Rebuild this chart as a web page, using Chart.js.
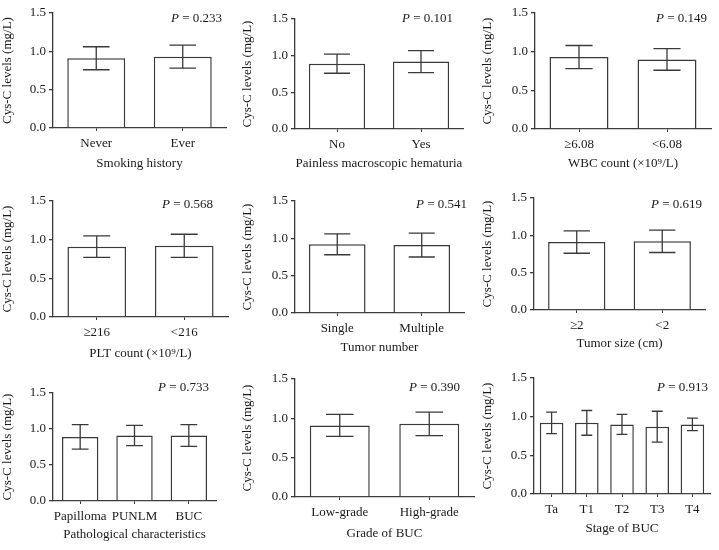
<!DOCTYPE html>
<html>
<head>
<meta charset="utf-8">
<script src="https://cdn.jsdelivr.net/npm/chart.js@4.4.1/dist/chart.umd.min.js"></script>
<style>
  body { margin: 0; background: #fff; }
  #wrap { position: relative; width: 719px; height: 550px; background: #fff; overflow: hidden; }
  #wrap canvas { position: absolute; }
</style>
</head>
<body>
<div id="wrap"></div>
<script>
// ---- data (mean and SD of Cys-C, mg/L) ----
const smokingLabels = ['Never', 'Ever'];
const smokingMean = [0.91, 0.93];
const smokingSd = [0.15, 0.15];

const hematuriaLabels = ['No', 'Yes'];
const hematuriaMean = [0.89, 0.92];
const hematuriaSd = [0.13, 0.15];

const wbcLabels = ['≥6.08', '<6.08'];
const wbcMean = [0.93, 0.90];
const wbcSd = [0.15, 0.14];

const pltLabels = ['≥216', '<216'];
const pltMean = [0.91, 0.92];
const pltSd = [0.14, 0.15];

const tumorNumLabels = ['Single', 'Multiple'];
const tumorNumMean = [0.92, 0.91];
const tumorNumSd = [0.14, 0.16];

const tumorSizeLabels = ['≥2', '<2'];
const tumorSizeMean = [0.91, 0.92];
const tumorSizeSd = [0.15, 0.15];

const pathLabels = ['Papilloma', 'PUNLM', 'BUC'];
const pathMean = [0.89, 0.91, 0.91];
const pathSd = [0.17, 0.14, 0.15];

const gradeLabels = ['Low-grade', 'High-grade'];
const gradeMean = [0.91, 0.93];
const gradeSd = [0.14, 0.15];

const stageLabels = ['Ta', 'T1', 'T2', 'T3', 'T4'];
const stageMean = [0.92, 0.92, 0.90, 0.87, 0.90];
const stageSd = [0.14, 0.16, 0.13, 0.20, 0.08];

const xTitles = ['Smoking history', 'Painless macroscopic hematuria', 'WBC count (×10⁹/L)',
  'PLT count (×10⁹/L)', 'Tumor number', 'Tumor size (cm)',
  'Pathological characteristics', 'Grade of BUC', 'Stage of BUC'];
const pValues = ['0.233', '0.101', '0.149', '0.568', '0.541', '0.619', '0.733', '0.390', '0.913'];
const yTitle = 'Cys-C levels (mg/L)';

const panelData = [
  [smokingLabels, smokingMean, smokingSd],
  [hematuriaLabels, hematuriaMean, hematuriaSd],
  [wbcLabels, wbcMean, wbcSd],
  [pltLabels, pltMean, pltSd],
  [tumorNumLabels, tumorNumMean, tumorNumSd],
  [tumorSizeLabels, tumorSizeMean, tumorSizeSd],
  [pathLabels, pathMean, pathSd],
  [gradeLabels, gradeMean, gradeSd],
  [stageLabels, stageMean, stageSd]
];

// ---- layout (page pixels) ----
const colLeft = [0, 240, 480];
const colWidth = [240, 240, 239];
const rowTop = [0, 180, 360];
const rowHeight = [180, 180, 190];
// axis left, plot top, plot bottom, axis right, x-title centre, P text right / centre
const boxes = [
  { ax: 53, top: 13, bottom: 128, right: 226, titleY: 163, pX: 222, pY: 19 },
  { ax: 295, top: 19, bottom: 129, right: 463, titleY: 163, pX: 453, pY: 19 },
  { ax: 535, top: 13, bottom: 129, right: 711, titleY: 163, pX: 707, pY: 19 },
  { ax: 53, top: 201, bottom: 317, right: 228, titleY: 353, pX: 213, pY: 205 },
  { ax: 295, top: 201, bottom: 313, right: 464, titleY: 347, pX: 467, pY: 205 },
  { ax: 534, top: 198, bottom: 310, right: 705, titleY: 343, pX: 702, pY: 205 },
  { ax: 53, top: 393, bottom: 501, right: 216, titleY: 534, pX: 209, pY: 388 },
  { ax: 295, top: 379, bottom: 497, right: 474, titleY: 533, pX: 460, pY: 388 },
  { ax: 534, top: 378, bottom: 494, right: 710, titleY: 528, pX: 708, pY: 388 }
];

const FONT = 'Liberation Serif, Times New Roman, serif';
const INK = '#1a1a1a';
const LINE = '#3a3a3a';

// error bars and the P value label
const errorBarPlugin = {
  id: 'errorBars',
  afterDatasetsDraw(chart) {
    const ctx = chart.ctx;
    const y = chart.scales.y;
    const ds = chart.data.datasets[0];
    const meta = chart.getDatasetMeta(0);
    ctx.save();
    ctx.strokeStyle = LINE;
    ctx.lineWidth = 1.3;
    meta.data.forEach((bar, i) => {
      const m = ds.data[i], sd = ds.errors[i];
      const hi = y.getPixelForValue(m + sd);
      const lo = y.getPixelForValue(m - sd);
      const half = bar.width * 0.23;
      ctx.beginPath();
      ctx.moveTo(bar.x, hi); ctx.lineTo(bar.x, lo);
      ctx.moveTo(bar.x - half, hi); ctx.lineTo(bar.x + half, hi);
      ctx.moveTo(bar.x - half, lo); ctx.lineTo(bar.x + half, lo);
      ctx.stroke();
    });
    ctx.restore();
  },
  afterDraw(chart) {
    const o = chart.options.plugins.pLabel;
    const ctx = chart.ctx;
    ctx.save();
    ctx.fillStyle = INK;
    ctx.textBaseline = 'middle';
    ctx.font = '13px ' + FONT;
    const rest = ' = ' + o.value;
    const w = ctx.measureText(rest).width;
    ctx.textAlign = 'right';
    ctx.fillText(rest, o.x, o.y);
    ctx.font = 'italic 13px ' + FONT;
    ctx.fillText('P', o.x - w, o.y);
    ctx.restore();
  }
};

const wrap = document.getElementById('wrap');

panelData.forEach(([labels, means, sds], i) => {
  const c = i % 3, r = Math.floor(i / 3);
  const b = boxes[i];
  const L = colLeft[c], T = rowTop[r], W = colWidth[c], H = rowHeight[r];
  const canvas = document.createElement('canvas');
  canvas.width = W; canvas.height = H;
  canvas.style.left = L + 'px'; canvas.style.top = T + 'px';
  canvas.style.width = W + 'px'; canvas.style.height = H + 'px';
  wrap.appendChild(canvas);

  const titleBottom = b.titleY + 8;
  const xHeight = titleBottom - b.bottom;
  const yWidth = b.ax - L;

  new Chart(canvas, {
    type: 'bar',
    data: {
      labels: labels,
      datasets: [{
        data: means,
        errors: sds,
        backgroundColor: '#ffffff',
        borderColor: LINE,
        borderWidth: 1.5,
        barPercentage: 0.67,
        categoryPercentage: 1.0
      }]
    },
    options: {
      responsive: false,
      animation: false,
      devicePixelRatio: 1,
      layout: {
        padding: { left: 0, top: b.top - T, right: L + W - b.right, bottom: T + H - titleBottom }
      },
      plugins: {
        legend: { display: false },
        tooltip: { enabled: false },
        pLabel: { value: pValues[i], x: b.pX - L, y: b.pY - T }
      },
      scales: {
        x: {
          grid: { display: true, drawOnChartArea: false, drawTicks: true, tickLength: 3, offset: false, color: LINE, lineWidth: 1 },
          border: { display: true, color: LINE, width: 1.3 },
          ticks: { font: { family: FONT, size: 13 }, color: INK, padding: 5, maxRotation: 0, autoSkip: false },
          title: { display: true, text: xTitles[i], font: { family: FONT, size: 13 }, color: INK, padding: 0 },
          afterFit(s) { s.height = xHeight; }
        },
        y: {
          min: 0, max: 1.5,
          grid: { display: true, drawOnChartArea: false, drawTicks: true, tickLength: 4, color: LINE, lineWidth: 1.3 },
          border: { display: true, color: LINE, width: 1.3 },
          ticks: {
            stepSize: 0.5, padding: 3, color: INK,
            font: { family: FONT, size: 13 },
            callback: v => Number(v).toFixed(1)
          },
          title: { display: true, text: yTitle, font: { family: FONT, size: 13 }, color: INK, padding: 0 },
          afterFit(s) { s.width = yWidth; }
        }
      }
    },
    plugins: [errorBarPlugin]
  });
});
</script>
</body>
</html>
